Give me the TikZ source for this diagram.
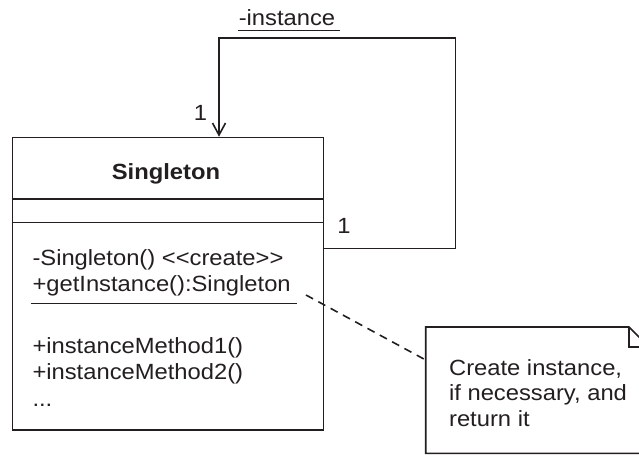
\documentclass[tikz,border=0pt]{standalone}
\usepackage{fontspec}
\setmainfont{Liberation Sans}[FakeStretch=1.08]
\usetikzlibrary{arrows.meta}
\definecolor{ink}{HTML}{231F20}
\begin{document}
\begin{tikzpicture}[x=1pt,y=-1pt,
  line width=1.6pt, draw=ink,
  txt/.style={inner sep=0pt, anchor=base west, text=ink, font=\fontsize{22}{26}\selectfont},
  boxline/.style={draw=ink, line width=1.6pt},
  assoc/.style={draw=ink, line width=1.6pt, -{Straight Barb[length=12pt,width=13pt,line width=1.6pt]}},
  notelink/.style={draw=ink, line width=1.6pt, dash pattern=on 8pt off 6pt}]
\useasboundingbox (0,0) rectangle (639,456);
\clip (0,0) rectangle (639,456);
\fill[white] (0,0) rectangle (639,456);
% class box
\node[boxline, anchor=north west, minimum width=311pt, minimum height=292.5pt, inner sep=0pt] (cls) at (11.7,136.7) {};
\coordinate (s1w) at (11.7,199); \coordinate (s1e) at (322.7,199);
\coordinate (s2w) at (11.7,222.5); \coordinate (s2e) at (322.7,222.5);
\draw[boxline] (s1w) -- (s1e);
\draw[boxline] (s2w) -- (s2e);
\node[txt, font=\fontsize{22}{26}\selectfont\bfseries, anchor=base] (name) at (166,179.3) {Singleton};
\node[txt] (op1) at (31.7,265.7) {-Singleton() <\kern0pt<create>\kern0pt>};
\node[txt] (op2) at (31.7,291.7) {+getInstance():Singleton};
\coordinate (u1) at (30.7,303.3); \coordinate (u2) at (296.7,303.3);
\draw[line width=1.3pt, draw=ink] (u1) -- (u2);
\node[txt] (m1) at (31.7,353) {+instanceMethod1()};
\node[txt] (m2) at (31.7,379.7) {+instanceMethod2()};
\node[txt] (m3) at (31.7,406) {...};
% self association
\coordinate (a0) at (322.7,248.5);
\coordinate (a1) at (455.3,248.5);
\coordinate (a2) at (455.3,37.7);
\coordinate (a3) at (219,37.7);
\coordinate (a4) at (219,136.7);
\draw[assoc] (a0) -- (a1) -- (a2) -- (a3) -- (a4);
\node[txt] (role) at (238,25) {-instance};
\coordinate (r1) at (238,30.7); \coordinate (r2) at (340,30.7);
\draw[line width=1.3pt, draw=ink] (r1) -- (r2);
\node[txt] (mtop) at (193,120) {1};
\node[txt] (mright) at (336.5,233.3) {1};
% note
\coordinate (n1) at (425.7,327);
\coordinate (n2) at (629,327);
\coordinate (n3) at (649,347);
\coordinate (n4) at (649,453.3);
\coordinate (n5) at (425.7,453.3);
\draw[boxline, fill=white] (n1) -- (n2) -- (n3) -- (n4) -- (n5) -- cycle;
\coordinate (f1) at (629,347);
\draw[boxline] (n2) -- (f1) -- (n3);
\node[txt] (t1) at (448.3,375) {Create instance,};
\node[txt] (t2) at (448.3,400.5) {if necessary, and};
\node[txt] (t3) at (448.3,426.7) {return it};
\coordinate (d0) at (306,295);
\coordinate (d1) at (425.7,360);
\draw[notelink] (d0) -- (d1);
\end{tikzpicture}
\end{document}
